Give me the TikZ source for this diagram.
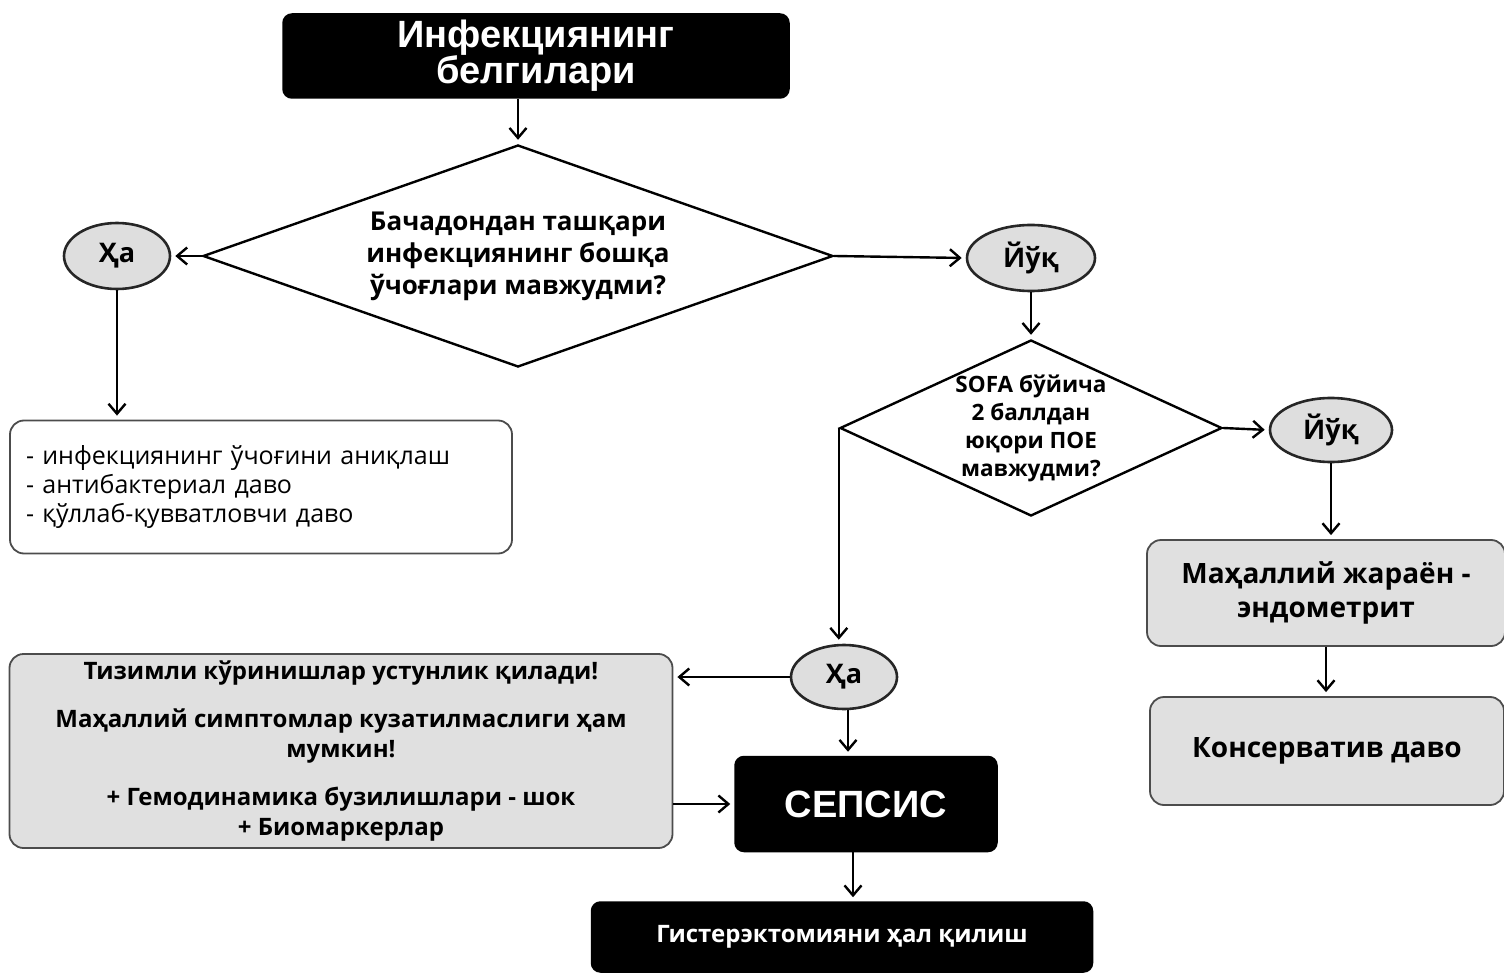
\documentclass[tikz,border=0pt]{standalone}
\usepackage{fontspec}
\setmainfont{Open Sans}
\newfontfamily\headfont{Liberation Sans}
\usetikzlibrary{shapes.geometric,arrows.meta}

\tikzset{
  arr/.style={-{Straight Barb[length=10pt,width=17pt,line width=2.4pt]}, line width=2.4pt, shorten >=4pt},
  darkbox/.style={draw=black, fill=black, rounded corners=9pt, text=white, line width=1.5pt},
  greybox/.style={draw=black!70, fill=black!12, rounded corners=14pt, line width=1.8pt},
  answer/.style={ellipse, draw=black!85, fill=black!13, line width=2.6pt, inner sep=0pt, font=\bfseries\fontsize{27}{30}\selectfont},
  decision/.style={diamond, draw=black, line width=2.4pt, inner sep=-6pt, align=center},
}

\begin{document}
\begin{tikzpicture}[x=1pt,y=-1pt]
    \useasboundingbox (0,0) rectangle (1504,973);

    \node (signs) at (536,56) [darkbox, minimum width=506, minimum height=84, align=center, font=\headfont\bfseries\fontsize{38}{36}\selectfont] {Инфекциянинг\\белгилари};

    % first question
    \node (focus) at (518,256) [decision, aspect=2.8, minimum width=630, minimum height=222, font=\bfseries\fontsize{26}{32}\selectfont] {Бачадондан ташқари\\инфекциянинг бошқа\\ўчоғлари мавжудми?};
    \node (yes1) at (117,256) [answer, minimum width=106, minimum height=66] {Ҳа};
    \node (no1) at (1031,258) [answer, minimum width=128, minimum height=66] {Йўқ};

    \node (steps) at (261,487) [draw=black!70, rounded corners=14pt, line width=1.8pt, text width=470, inner xsep=16, minimum height=133, align=left, font=\fontsize{25}{29}\selectfont] {- инфекциянинг ўчоғини аниқлаш\\- антибактериал даво\\- қўллаб-қувватловчи даво};

    % second question
    \node (sofa) at (1031,428) [decision, aspect=2.2, minimum width=382, minimum height=176, font=\bfseries\fontsize{22.5}{28}\selectfont] {SOFA бўйича\\2 баллдан\\юқори ПОЕ\\мавжудми?};
    \node (no2) at (1331,430) [answer, minimum width=122, minimum height=64] {Йўқ};
    \node (yes2) at (844,677) [answer, minimum width=106, minimum height=64] {Ҳа};

    \node (local) at (1326,593) [greybox, minimum width=358, minimum height=106, align=center, font=\bfseries\fontsize{28}{34}\selectfont] {Маҳаллий жараён -\\эндометрит};
    \node (conserv) at (1327,751) [greybox, minimum width=354, minimum height=108, font=\bfseries\fontsize{28}{34}\selectfont] {Консерватив даво};

    \node (systemic) at (341,751) [greybox, minimum width=663, minimum height=194, align=center, font=\bfseries\fontsize{24}{30}\selectfont] {Тизимли кўринишлар устунлик қилади!\\[18pt]Маҳаллий симптомлар кузатилмаслиги ҳам\\мумкин!\\[18pt]+ Гемодинамика бузилишлари - шок\\+ Биомаркерлар};

    \node (sepsis) at (866,804) [darkbox, minimum width=262, minimum height=95, font=\headfont\bfseries\fontsize{38}{40}\selectfont] {СЕПСИС};
    \node (surgery) at (842,937) [darkbox, minimum width=501, minimum height=70, font=\bfseries\fontsize{24}{26}\selectfont] {Гистерэктомияни ҳал қилиш};

    % connectors
    \draw [arr] (signs.south -| focus.north) -- (focus.north);
    \draw [arr] (focus.west) -- (yes1.east);
    \draw [arr] (focus.east) -- (no1.west);
    \draw [arr] (yes1.south) -- (yes1.south |- steps.north);
    \draw [arr] (no1.south) -- (no1.south |- sofa.north);
    \draw [arr] (sofa.east) -- (no2.west);
    \draw [arr] (no2.south) -- (no2.south |- local.north);
    \draw [arr] (local.south) -- (local.south |- conserv.north);
    \draw [arr] (sofa.west) -- (sofa.west |- yes2.north);
    \draw [arr] (yes2.west) -- (yes2.west -| systemic.east);
    \draw [arr] ([xshift=4pt]yes2.south) -- ([xshift=4pt]yes2.south |- sepsis.north);
    \draw [arr] (systemic.east |- sepsis.west) -- (sepsis.west);
    \draw [arr] ([xshift=-13pt]sepsis.south) -- ([xshift=-13pt]sepsis.south |- surgery.north);

\end{tikzpicture}
\end{document}
